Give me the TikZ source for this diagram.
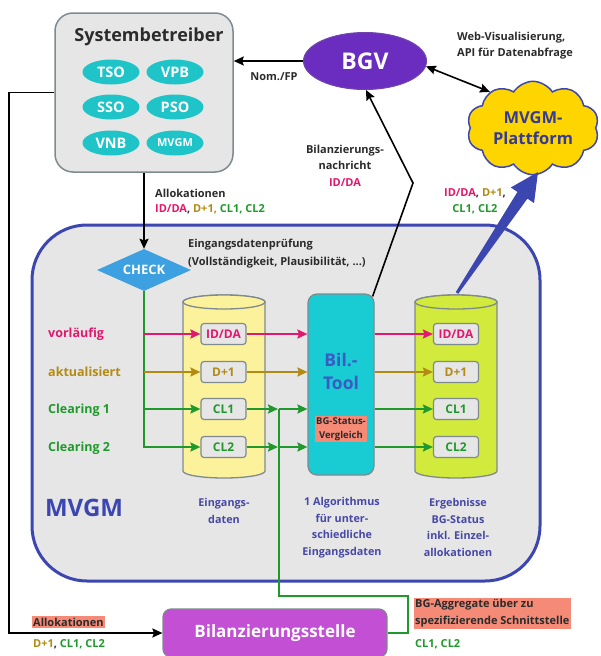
\documentclass[tikz,border=0pt]{standalone}
\usepackage{fontspec}
\setmainfont{Open Sans}
\usetikzlibrary{shapes.geometric,shapes.symbols,arrows.meta,calc}
\definecolor{cMag}{HTML}{E0196E}
\definecolor{cOli}{HTML}{B38A12}
\definecolor{cGrn}{HTML}{20992C}
\definecolor{cBlu}{HTML}{3C46B0}
\definecolor{cLab}{HTML}{4648A6}
\definecolor{cGray}{HTML}{E6E6E6}
\definecolor{cBord}{HTML}{7F8A8F}
\definecolor{cTeal}{HTML}{1EC4C8}
\definecolor{cCyan}{HTML}{19CBD3}
\definecolor{cPur}{HTML}{6A2DC0}
\definecolor{cOrch}{HTML}{C24FD4}
\definecolor{cYel}{HTML}{FFD500}
\definecolor{cSal}{HTML}{F58A76}
\definecolor{cDia}{HTML}{3DA0E0}
\definecolor{cCylY}{HTML}{FDF29C}
\definecolor{cCylG}{HTML}{D2EA3C}
\definecolor{cTool}{HTML}{3A5AC4}
\definecolor{cTxt}{HTML}{2B2B2B}
\begin{document}
\begin{tikzpicture}[x=1pt,y=-1pt,
  every node/.style={font=\bfseries},
  arr/.style={-{Stealth[length=10pt,width=9pt,inset=1.5pt]}},
  blk/.style={draw=black,line width=1.6pt},
  colln/.style={line width=2pt},
  lbl/.style={inner sep=0pt,text=cTxt,font=\bfseries\fontsize{11}{16}\selectfont},
  oval/.style={ellipse,fill=cTeal,minimum width=57pt,minimum height=25pt,inner sep=0pt,text=white,font=\bfseries\fontsize{14.5}{15}\selectfont},
  smallbox/.style={rectangle,rounded corners=3pt,fill=cGray,draw=cBord,line width=1.2pt,minimum width=45pt,minimum height=21pt,inner sep=0pt,font=\bfseries\fontsize{12}{12}\selectfont},
  rowlbl/.style={anchor=west,inner sep=0pt,font=\bfseries\fontsize{12.5}{14}\selectfont},
  desc/.style={inner sep=0pt,align=center,text=cLab,font=\bfseries\fontsize{10.8}{16.5}\selectfont},
  salmon/.style={fill=cSal,inner sep=1.5pt,text=cTxt}
]
\useasboundingbox (0,0) rectangle (600,656);

% MVGM container
\node[draw=cBlu,line width=3pt,fill=cGray,rounded corners=55pt,minimum width=508pt,minimum height=356pt,inner sep=0pt] (mvgm) at (286,403) {};

% Systembetreiber
\node[rectangle,rounded corners=18pt,fill=cGray,draw=cBord,line width=1.5pt,minimum width=178pt,minimum height=159pt,inner sep=0pt] (sb) at (144,92.5) {};
\node[inner sep=0pt,text=cTxt,font=\bfseries\fontsize{18}{20}\selectfont] (sbt) at (149,37) {Systembetreiber};
\node[oval] (tso) at (111,72) {TSO};
\node[oval] (vpb) at (175,72) {VPB};
\node[oval] (sso) at (111,107) {SSO};
\node[oval] (pso) at (175,107) {PSO};
\node[oval] (vnb) at (111,143) {VNB};
\node[oval,font=\bfseries\fontsize{11}{12}\selectfont] (mvgmo) at (175,143) {MVGM};

% BGV
\node[ellipse,fill=cPur,draw=cPur!70!gray,line width=1pt,minimum width=123pt,minimum height=57pt,inner sep=0pt,text=white,font=\bfseries\fontsize{23}{24}\selectfont] (bgv) at (365,61) {BGV};

% Cloud
\node[cloud,cloud puffs=10,cloud puff arc=115,aspect=1.45,fill=cYel,draw=cBlu,line width=1.5pt,minimum width=132pt,minimum height=90pt,inner sep=0pt,align=center,text=cBlu!85!black,font=\bfseries\fontsize{16.5}{21}\selectfont] (cloud) at (533,128) {MVGM-\\Plattform};

% CHECK
\node[diamond,aspect=2.3,fill=cDia,minimum width=94pt,minimum height=42pt,inner sep=0pt,text=white,font=\bfseries\fontsize{13}{13}\selectfont] (check) at (144,270) {CHECK};

% Cylinders
\path[fill=cCylY,draw=cBord,line width=1.3pt] (183,302) -- (183,471) arc[start angle=180,end angle=360,x radius=41pt,y radius=7pt] -- (265,302) arc[start angle=0,end angle=180,x radius=41pt,y radius=7pt] -- cycle;
\draw[fill=cCylY,draw=cBord,line width=1.3pt] (224,302) ellipse[x radius=41pt,y radius=7pt];
\path[fill=cCylG,draw=cBord,line width=1.3pt] (415,302) -- (415,471) arc[start angle=180,end angle=360,x radius=41pt,y radius=7pt] -- (497,302) arc[start angle=0,end angle=180,x radius=41pt,y radius=7pt] -- cycle;
\draw[fill=cCylG,draw=cBord,line width=1.3pt] (456,302) ellipse[x radius=41pt,y radius=7pt];
\coordinate (cylGtop) at (457,293);

% small boxes
\node[smallbox,text=cMag] (in1) at (223.5,334) {ID/DA};
\node[smallbox,text=cOli] (in2) at (223.5,372) {D+1};
\node[smallbox,text=cGrn] (in3) at (223.5,409) {CL1};
\node[smallbox,text=cGrn] (in4) at (223.5,447) {CL2};
\node[smallbox,text=cMag] (out1) at (456,334) {ID/DA};
\node[smallbox,text=cOli] (out2) at (456,372) {D+1};
\node[smallbox,text=cGrn] (out3) at (456,409) {CL1};
\node[smallbox,text=cGrn] (out4) at (456,447) {CL2};

% Bil.-Tool
\node[rectangle,rounded corners=9pt,fill=cCyan,draw=cBord,line width=1.2pt,minimum width=66pt,minimum height=181pt,inner sep=0pt] (tool) at (341,384.5) {};
\node[inner sep=0pt,align=center,text=cTool,font=\bfseries\fontsize{17.5}{23}\selectfont] (toolt) at (341,371.5) {Bil.-\\Tool};
\node[fill=cSal,inner sep=1pt,align=center,text=cTxt,font=\bfseries\fontsize{9.5}{14}\selectfont] (bgsv) at (341,429) {BG-Status-\\Vergleich};

% Bilanzierungsstelle
\node[rectangle,rounded corners=8pt,fill=cOrch,draw=cBord,line width=1.2pt,minimum width=224pt,minimum height=48pt,inner sep=0pt,text=white,font=\bfseries\fontsize{17}{18}\selectfont] (bst) at (275,633) {Bilanzierungsstelle};

% ---- connectors ----
\draw[blk,arr] (bgv.west) -- (sb.east |- bgv.west);
\draw[blk,arr] (sb.south) -- (check.north);
\draw[blk,arr] (sb.west) -- ++(-45,0) |- (bst.west);
\coordinate (bend) at (413,183);
\draw[blk,arr] ($(tool.north east)+(-2,3)$) -- (bend) -- (bgv.-88);
\draw[blk,{Stealth[length=10pt,width=9pt,inset=1.5pt]}-{Stealth[length=10pt,width=9pt,inset=1.5pt]}] (bgv.-5) -- (cloud.140);

% check -> inputs
\draw[colln,draw=cGrn,arr] (check.south) |- (in4.west);
\draw[colln,draw=cGrn,arr] (check.south |- in3) -- (in3.west);
\draw[colln,draw=cOli,arr] (check.south |- in2) -- (in2.west);
\draw[colln,draw=cMag,arr] (check.south |- in1) -- (in1.west);

% inputs -> tool
\draw[colln,draw=cMag,arr] (in1.east) -- (tool.west |- in1);
\draw[colln,draw=cOli,arr] (in2.east) -- (tool.west |- in2);
\coordinate (vg3) at (279,409);
\coordinate (vg4) at (279,447);
\draw[colln,draw=cGrn,arr] (in3.east) -- ($(vg3)+(-1,0)$);
\draw[colln,draw=cGrn,arr] (in4.east) -- ($(vg4)+(-1,0)$);
\draw[colln,draw=cGrn] (bst.east) -- (408,633) -- (408,596) -- (279,596) -- (vg3);
\draw[colln,draw=cGrn,arr] (vg3) -- (tool.west |- vg3);
\draw[colln,draw=cGrn,arr] (vg4) -- (tool.west |- vg4);

% tool -> outputs
\draw[colln,draw=cMag,arr] (tool.east |- out1) -- (out1.west);
\draw[colln,draw=cOli,arr] (tool.east |- out2) -- (out2.west);
\draw[colln,draw=cGrn,arr] (tool.east |- out3) -- (out3.west);
\draw[colln,draw=cGrn,arr] (tool.east |- out4) -- (out4.west);

% big blue arrow
\coordinate (btip) at (538,172);
\coordinate (bh) at ($(btip)!28pt!(cylGtop)$);
\fill[cBlu] ($(cylGtop)!1.5pt!90:(btip)$) -- ($(bh)!6pt!90:(btip)$) -- ($(bh)!14pt!90:(btip)$) -- (btip) -- ($(bh)!14pt!-90:(btip)$) -- ($(bh)!6pt!-90:(btip)$) -- ($(cylGtop)!1.5pt!-90:(btip)$) -- cycle;

% ---- labels ----
\node[lbl,anchor=west] (l1) at (155,193) {Allokationen};
\node[lbl,anchor=west] (l2) at (155,209) {\textcolor{cMag}{ID/DA}, \textcolor{cOli}{D+1,} \textcolor{cGrn}{CL1, CL2}};
\node[lbl,anchor=center] (l3) at (274,77) {Nom./FP};
\node[lbl,anchor=west,align=left] (l4) at (457,46) {Web-Visualisierung,\\API für Datenabfrage};
\node[lbl,align=center,font=\bfseries\fontsize{11}{16.5}\selectfont] (l5) at (345,165.5) {Bilanzierungs-\\nachricht\\\textcolor{cMag}{ID/DA}};
\node[lbl,align=center] (l6) at (475,201) {\textcolor{cMag}{ID/DA}, \textcolor{cOli}{D+1},\\\textcolor{cGrn}{CL1, CL2}};
\node[lbl,anchor=west,align=left,font=\bfseries\fontsize{11}{18}\selectfont] (l7) at (188,254) {Eingangsdatenprüfung\\(Vollständigkeit, Plausibilität, ...)};

\node[rowlbl,text=cMag] (r1) at (48,334) {vorläufig};
\node[rowlbl,text=cOli] (r2) at (48,372) {aktualisiert};
\node[rowlbl,text=cGrn] (r3) at (48,410) {Clearing 1};
\node[rowlbl,text=cGrn] (r4) at (48,448) {Clearing 2};

\node[inner sep=0pt,text=cBlu,font=\bfseries\fontsize{24}{26}\selectfont] (mvgmt) at (84,508) {MVGM};
\node[desc] (d1) at (224,511) {Eingangs-\\daten};
\node[desc] (d2) at (342,527.5) {1 Algorithmus\\für unter-\\schiedliche\\Eingangsdaten};
\node[desc] (d3) at (458,527.5) {Ergebnisse\\BG-Status\\inkl. Einzel-\\allokationen};

\node[lbl,salmon,anchor=west] (a1) at (31.5,622) {Allokationen};
\node[lbl,anchor=west] (a2) at (33,644) {\textcolor{cOli}{D+1}, \textcolor{cGrn}{CL1, CL2}};
\node[lbl,salmon,anchor=west,align=left,font=\bfseries\fontsize{11}{17}\selectfont] (b1) at (413.5,613.5) {BG-Aggregate über zu\\spezifizierende Schnittstelle};
\node[lbl,anchor=west,text=cGrn] (b2) at (415,644) {CL1, CL2};
\end{tikzpicture}
\end{document}
